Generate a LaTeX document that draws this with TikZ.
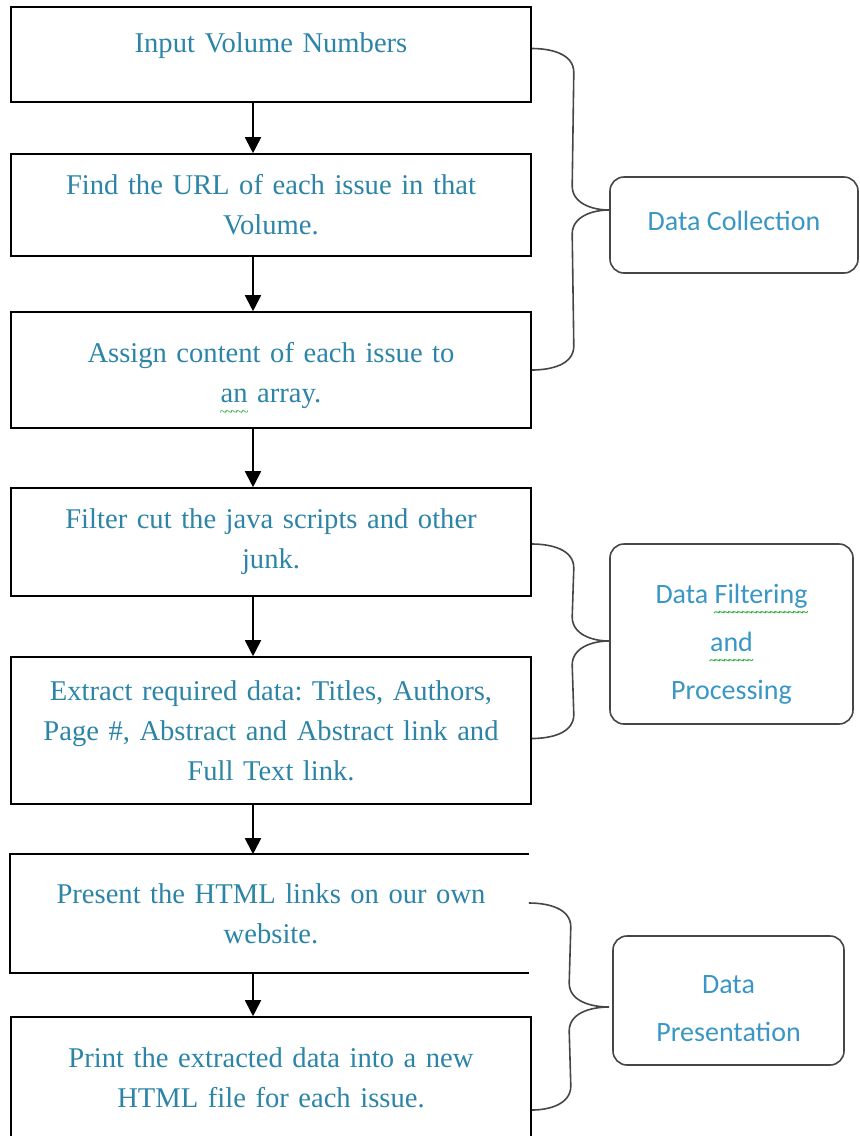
\documentclass[tikz,border=0pt]{standalone}
\usepackage{fontspec}
\setmainfont{Liberation Serif}
\newfontfamily\labelfont{Carlito}
\usepackage{tikz}
\usetikzlibrary{arrows.meta, positioning, calc}
\definecolor{steptext}{RGB}{44, 132, 166}
\definecolor{tagtext}{RGB}{58, 150, 196}
\definecolor{bracegray}{RGB}{70, 70, 70}
\definecolor{spellgreen}{RGB}{40, 170, 50}
\frenchspacing
% green spell-check wave under a word
\newlength\wavelen
\newcommand\spellwave[1]{\leavevmode\settowidth\wavelen{#1}\rlap{\color{spellgreen}\raisebox{-6.6pt}[0pt][0pt]{\hbox to \wavelen{\xleaders\hbox{\fontsize{7}{7}\selectfont\kern-0.6pt\char"7E\kern-0.6pt}\hfill}}}#1}
\tikzset{
  stepbox/.style={rectangle, draw=black, line width=0.8pt, minimum width=260pt,
    text width=250pt, align=center, text=steptext, inner sep=0pt,
    font=\fontsize{14.3}{20}\selectfont},
  tagbox/.style={rectangle, rounded corners=7pt, draw=bracegray, line width=0.8pt,
    align=center, text=tagtext, font=\labelfont\fontsize{14}{24}\selectfont},
  arrow/.style={-{Triangle[length=8pt, width=8pt]}, line width=0.9pt},
  bracket/.style={draw=bracegray, line width=0.8pt},
}

\begin{document}
\begin{tikzpicture}

  \useasboundingbox (0,0) rectangle (429.5pt,-568pt);

  % ── Steps ──
  \node[stepbox, minimum height=47.5pt, text depth=12pt] (input) at (135.5pt,-27.25pt) {Input Volume Numbers};
  \node[stepbox, minimum height=51pt]   (find)    at (135.5pt,-102.5pt) {Find the URL of each issue in that\\Volume.};
  \node[stepbox, minimum height=58pt]   (assign)  at (135.5pt,-185pt)   {\rule{0pt}{16pt}Assign content of each issue to\\\spellwave{an} array.};
  \node[stepbox, minimum height=54pt]   (filter)  at (135.5pt,-271pt)   {Filter cut the java scripts and other\\junk.};
  \node[stepbox, minimum height=73.5pt] (extract) at (135.5pt,-365.25pt) {Extract required data: Titles, Authors,\\Page \#, Abstract and Abstract link and\\Full Text link.};
  \node[stepbox, draw=none, minimum height=58.5pt] (present) at (135.5pt,-456.75pt) {Present the HTML links on our own\\website.};
  \node[stepbox, minimum height=61pt]   (print)   at (135.5pt,-539pt)   {Print the extracted data into a new\\HTML file for each issue.};

  % open box, no right side
  \draw[line width=0.8pt] ([xshift=-1.5pt]present.north east) -- (present.north west)
    -- (present.south west) -- ([xshift=-1.5pt]present.south east);

  % ── Arrows ──
  \draw[arrow] ([xshift=-9pt]input.south)   -- ([xshift=-9pt]find.north);
  \draw[arrow] ([xshift=-9pt]find.south)    -- ([xshift=-9pt]assign.north);
  \draw[arrow] ([xshift=-9pt]assign.south)  -- ([xshift=-9pt]filter.north);
  \draw[arrow] ([xshift=-9pt]filter.south)  -- ([xshift=-9pt]extract.north);
  \draw[arrow] ([xshift=-9pt]extract.south) -- ([xshift=-9pt]present.north);
  \draw[arrow] ([xshift=-9pt]present.south) -- ([xshift=-9pt]print.north);

  % ── Phases ──
  \node[tagbox, minimum width=124pt, minimum height=48pt, text depth=4pt] (collect) at (367pt,-112.5pt) {Data Collection};
  \node[tagbox, minimum width=121.5pt, minimum height=90pt] (process) at (365.75pt,-317pt)
    {\rule{0pt}{19.5pt}Data \spellwave{Filtering}\\\spellwave{and}\\Processing};
  \node[tagbox, minimum width=115.5pt, minimum height=64.5pt] (show) at (364.25pt,-500.25pt) {\rule{0pt}{17pt}Data\\Presentation};

  % ── Braces ──
  \coordinate (c1) at ([yshift=3pt]input.east);
  \coordinate (c2) at ([yshift=7.5pt]collect.west);
  \coordinate (c3) at (assign.east);
  \draw[bracket] (c1) to[out=0,in=90] ($(c1)+(21pt,-12pt)$) -- ($(c2)+(-18.5pt,12pt)$)
    to[out=-90,in=180] (c2) to[out=180,in=90] ($(c2)+(-18.5pt,-12pt)$)
    -- ($(c3)+(21pt,12pt)$) to[out=-90,in=0] (c3);

  \coordinate (f1) at ([yshift=-1pt]filter.east);
  \coordinate (f2) at ([yshift=-3.5pt]process.west);
  \coordinate (f3) at ([yshift=-4pt]extract.east);
  \draw[bracket] (f1) to[out=0,in=90] ($(f1)+(21pt,-12pt)$) -- ($(f2)+(-18.5pt,12pt)$)
    to[out=-90,in=180] (f2) to[out=180,in=90] ($(f2)+(-18.5pt,-12pt)$)
    -- ($(f3)+(21pt,12pt)$) to[out=-90,in=0] (f3);

  \coordinate (p1) at ([xshift=-1.5pt, yshift=5.25pt]present.east);
  \coordinate (p2) at ([xshift=-1.5pt, yshift=-3.25pt]show.west);
  \coordinate (p3) at ([yshift=-16pt]print.east);
  \draw[bracket] (p1) to[out=0,in=90] ($(p1)+(21pt,-12pt)$) -- ($(p2)+(-20pt,12pt)$)
    to[out=-90,in=180] (p2) to[out=180,in=90] ($(p2)+(-20pt,-12pt)$)
    -- ($(p3)+(19.5pt,12pt)$) to[out=-90,in=0] (p3);

\end{tikzpicture}
\end{document}
